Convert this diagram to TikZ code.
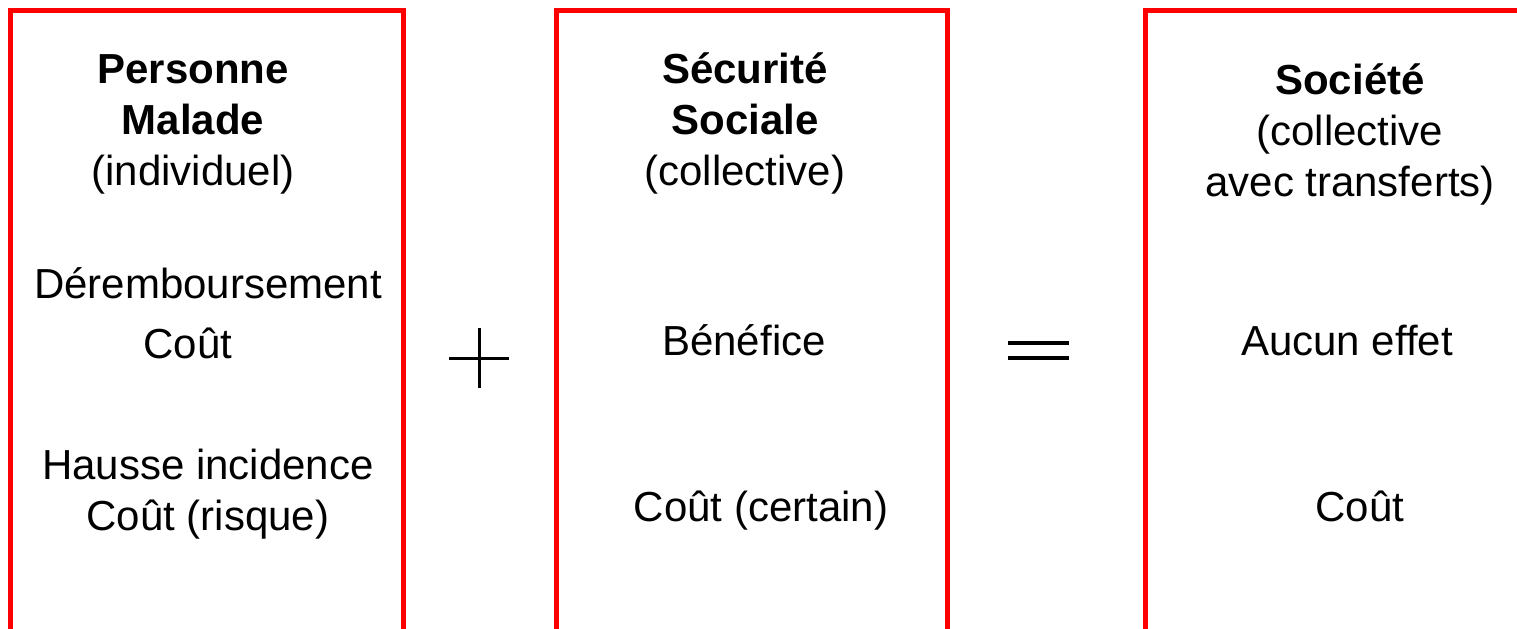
\documentclass[tikz,border=0pt]{standalone}
\usepackage{fontspec}
\setmainfont{Liberation Sans}
\usetikzlibrary{positioning}
\definecolor{PanelRed}{RGB}{255,0,0}

\begin{document}
\begin{tikzpicture}[x=0.5pt,y=-0.5pt,
    panel/.style={PanelRed, line width=2.5pt},
    txt/.style={inner sep=0pt, anchor=base, align=center, font=\fontsize{21}{25.5}\selectfont},
    opsign/.style={line width=1.9pt}]
  \useasboundingbox (0,0) rectangle (1517,628);
  \clip (0,0) rectangle (1517,628);

  % three panels, open at the bottom
  \draw[panel] (10,660) -- (10,10.5) -- (403,10.5) -- (403,660);
  \draw[panel] (556,660) -- (556,10.5) -- (947,10.5) -- (947,660);
  \draw[panel] (1145,660) -- (1145,10.5) -- (1540,10.5);

  % individual side (base = last line)
  \node[txt] (malade) at (193,185) {\textbf{Personne}\\\textbf{Malade}\\(individuel)};
  \node[txt] (derem) at (208,298) {Déremboursement};
  \node[txt] (coutind) at (188,358) {Coût};
  \node[txt] (hausse) at (208,530) {Hausse incidence\\Coût (risque)};

  % + sign
  \draw[opsign, line width=1.5pt] (449,358) -- (509,358) (479,328) -- (479,388);

  % collective side
  \node[txt] (secu) at (745,185) {\textbf{Sécurité}\\\textbf{Sociale}\\(collective)};
  \node[txt] (benef) at (744,355) {Bénéfice};
  \node[txt] (coutcert) at (761,521) {Coût (certain)};

  % = sign
  \draw[opsign] (1008,343) -- (1069,343) (1008,358) -- (1069,358);

  % society
  \node[txt] (societe) at (1350,196) {\textbf{Société}\\(collective\\avec transferts)};
  \node[txt] (aucun) at (1347,355) {Aucun effet};
  \node[txt] (coutsoc) at (1360,521) {Coût};
\end{tikzpicture}
\end{document}
